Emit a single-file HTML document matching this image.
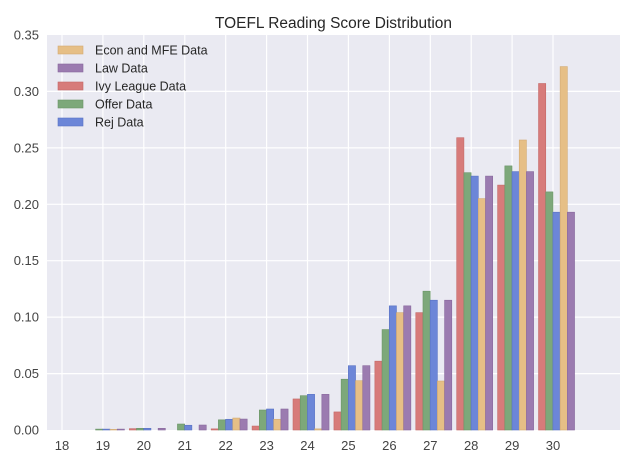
<!DOCTYPE html>
<html><head><meta charset="utf-8"><style>
html,body{margin:0;padding:0;background:#fff;}
svg{display:block;font-family:"Liberation Sans",Arial,sans-serif;}
</style></head><body>
<svg width="640" height="465" viewBox="0 0 640 465" xmlns="http://www.w3.org/2000/svg">
<rect x="0" y="0" width="640" height="465" fill="#ffffff"/>
<rect x="47" y="35" width="573" height="395" fill="#eaeaf2"/>
<g stroke="#ffffff" stroke-width="1.2">
<line x1="47" x2="620" y1="373.6" y2="373.6"/>
<line x1="47" x2="620" y1="317.1" y2="317.1"/>
<line x1="47" x2="620" y1="260.7" y2="260.7"/>
<line x1="47" x2="620" y1="204.3" y2="204.3"/>
<line x1="47" x2="620" y1="147.9" y2="147.9"/>
<line x1="47" x2="620" y1="91.4" y2="91.4"/>
<line x1="62" x2="62" y1="35" y2="430"/>
<line x1="102.9" x2="102.9" y1="35" y2="430"/>
<line x1="143.8" x2="143.8" y1="35" y2="430"/>
<line x1="184.8" x2="184.8" y1="35" y2="430"/>
<line x1="225.7" x2="225.7" y1="35" y2="430"/>
<line x1="266.6" x2="266.6" y1="35" y2="430"/>
<line x1="307.5" x2="307.5" y1="35" y2="430"/>
<line x1="348.4" x2="348.4" y1="35" y2="430"/>
<line x1="389.4" x2="389.4" y1="35" y2="430"/>
<line x1="430.3" x2="430.3" y1="35" y2="430"/>
<line x1="471.2" x2="471.2" y1="35" y2="430"/>
<line x1="512.1" x2="512.1" y1="35" y2="430"/>
<line x1="553" x2="553" y1="35" y2="430"/>
</g>
<g transform="translate(0,430) scale(1,-1)" stroke-width="0.6">
<g transform="translate(88.42,0)">
<rect x="7.2" y="0" width="7.2" height="0.9" fill="#7da87a" stroke="#6a9567"/>
<rect x="14.4" y="0" width="7.2" height="0.9" fill="#6c86d8" stroke="#5a73c4"/>
<rect x="21.6" y="0" width="7.2" height="0.6" fill="#e6bf86" stroke="#d3ab72"/>
<rect x="28.8" y="0" width="7.2" height="0.9" fill="#9b7bb0" stroke="#88689d"/>
</g>
<g transform="translate(129.34,0)">
<rect x="0" y="0" width="7.2" height="1.35" fill="#d77b7a" stroke="#c46867"/>
<rect x="7.2" y="0" width="7.2" height="1.7" fill="#7da87a" stroke="#6a9567"/>
<rect x="14.4" y="0" width="7.2" height="1.7" fill="#6c86d8" stroke="#5a73c4"/>
<rect x="28.8" y="0" width="7.2" height="1.7" fill="#9b7bb0" stroke="#88689d"/>
</g>
<g transform="translate(170.26,0)">
<rect x="7.2" y="0" width="7.2" height="5.98" fill="#7da87a" stroke="#6a9567"/>
<rect x="14.4" y="0" width="7.2" height="4.74" fill="#6c86d8" stroke="#5a73c4"/>
<rect x="28.8" y="0" width="7.2" height="4.97" fill="#9b7bb0" stroke="#88689d"/>
</g>
<g transform="translate(211.18,0)">
<rect x="0" y="0" width="7.2" height="1.13" fill="#d77b7a" stroke="#c46867"/>
<rect x="7.2" y="0" width="7.2" height="10.16" fill="#7da87a" stroke="#6a9567"/>
<rect x="14.4" y="0" width="7.2" height="10.72" fill="#6c86d8" stroke="#5a73c4"/>
<rect x="21.6" y="0" width="7.2" height="11.96" fill="#e6bf86" stroke="#d3ab72"/>
<rect x="28.8" y="0" width="7.2" height="10.95" fill="#9b7bb0" stroke="#88689d"/>
</g>
<g transform="translate(252.1,0)">
<rect x="0" y="0" width="7.2" height="3.95" fill="#d77b7a" stroke="#c46867"/>
<rect x="7.2" y="0" width="7.2" height="19.98" fill="#7da87a" stroke="#6a9567"/>
<rect x="14.4" y="0" width="7.2" height="20.99" fill="#6c86d8" stroke="#5a73c4"/>
<rect x="21.6" y="0" width="7.2" height="10.72" fill="#e6bf86" stroke="#d3ab72"/>
<rect x="28.8" y="0" width="7.2" height="20.99" fill="#9b7bb0" stroke="#88689d"/>
</g>
<g transform="translate(293.02,0)">
<rect x="0" y="0" width="7.2" height="31.04" fill="#d77b7a" stroke="#c46867"/>
<rect x="7.2" y="0" width="7.2" height="34.31" fill="#7da87a" stroke="#6a9567"/>
<rect x="14.4" y="0" width="7.2" height="35.66" fill="#6c86d8" stroke="#5a73c4"/>
<rect x="21.6" y="0" width="7.2" height="1.13" fill="#e6bf86" stroke="#d3ab72"/>
<rect x="28.8" y="0" width="7.2" height="35.66" fill="#9b7bb0" stroke="#88689d"/>
</g>
<g transform="translate(333.94,0)">
<rect x="0" y="0" width="7.2" height="18.06" fill="#d77b7a" stroke="#c46867"/>
<rect x="7.2" y="0" width="7.2" height="50.79" fill="#7da87a" stroke="#6a9567"/>
<rect x="14.4" y="0" width="7.2" height="64.33" fill="#6c86d8" stroke="#5a73c4"/>
<rect x="21.6" y="0" width="7.2" height="49.32" fill="#e6bf86" stroke="#d3ab72"/>
<rect x="28.8" y="0" width="7.2" height="64.33" fill="#9b7bb0" stroke="#88689d"/>
</g>
<g transform="translate(374.86,0)">
<rect x="0" y="0" width="7.2" height="68.84" fill="#d77b7a" stroke="#c46867"/>
<rect x="7.2" y="0" width="7.2" height="100.44" fill="#7da87a" stroke="#6a9567"/>
<rect x="14.4" y="0" width="7.2" height="124.14" fill="#6c86d8" stroke="#5a73c4"/>
<rect x="21.6" y="0" width="7.2" height="117.37" fill="#e6bf86" stroke="#d3ab72"/>
<rect x="28.8" y="0" width="7.2" height="124.14" fill="#9b7bb0" stroke="#88689d"/>
</g>
<g transform="translate(415.78,0)">
<rect x="0" y="0" width="7.2" height="117.37" fill="#d77b7a" stroke="#c46867"/>
<rect x="7.2" y="0" width="7.2" height="138.81" fill="#7da87a" stroke="#6a9567"/>
<rect x="14.4" y="0" width="7.2" height="129.79" fill="#6c86d8" stroke="#5a73c4"/>
<rect x="21.6" y="0" width="7.2" height="48.98" fill="#e6bf86" stroke="#d3ab72"/>
<rect x="28.8" y="0" width="7.2" height="129.79" fill="#9b7bb0" stroke="#88689d"/>
</g>
<g transform="translate(456.7,0)">
<rect x="0" y="0" width="7.2" height="292.3" fill="#d77b7a" stroke="#c46867"/>
<rect x="7.2" y="0" width="7.2" height="257.3" fill="#7da87a" stroke="#6a9567"/>
<rect x="14.4" y="0" width="7.2" height="253.9" fill="#6c86d8" stroke="#5a73c4"/>
<rect x="21.6" y="0" width="7.2" height="231.4" fill="#e6bf86" stroke="#d3ab72"/>
<rect x="28.8" y="0" width="7.2" height="253.9" fill="#9b7bb0" stroke="#88689d"/>
</g>
<g transform="translate(497.62,0)">
<rect x="0" y="0" width="7.2" height="244.9" fill="#d77b7a" stroke="#c46867"/>
<rect x="7.2" y="0" width="7.2" height="264.1" fill="#7da87a" stroke="#6a9567"/>
<rect x="14.4" y="0" width="7.2" height="258.4" fill="#6c86d8" stroke="#5a73c4"/>
<rect x="21.6" y="0" width="7.2" height="290.0" fill="#e6bf86" stroke="#d3ab72"/>
<rect x="28.8" y="0" width="7.2" height="258.4" fill="#9b7bb0" stroke="#88689d"/>
</g>
<g transform="translate(538.54,0)">
<rect x="0" y="0" width="7.2" height="346.5" fill="#d77b7a" stroke="#c46867"/>
<rect x="7.2" y="0" width="7.2" height="238.1" fill="#7da87a" stroke="#6a9567"/>
<rect x="14.4" y="0" width="7.2" height="217.8" fill="#6c86d8" stroke="#5a73c4"/>
<rect x="21.6" y="0" width="7.2" height="363.4" fill="#e6bf86" stroke="#d3ab72"/>
<rect x="28.8" y="0" width="7.2" height="217.8" fill="#9b7bb0" stroke="#88689d"/>
</g>
</g>
<text x="333.5" y="28" font-size="15.5" fill="#262626" text-anchor="middle" textLength="237" lengthAdjust="spacingAndGlyphs">TOEFL Reading Score Distribution</text>
<g font-size="13" fill="#444444" text-anchor="end">
<text x="39" y="39.5">0.35</text>
<text x="39" y="96">0.30</text>
<text x="39" y="152.4">0.25</text>
<text x="39" y="208.8">0.20</text>
<text x="39" y="265.2">0.15</text>
<text x="39" y="321.6">0.10</text>
<text x="39" y="378.1">0.05</text>
<text x="39" y="434.5">0.00</text>
</g>
<g font-size="13" fill="#444444" text-anchor="middle">
<text x="62" y="450">18</text>
<text x="102.9" y="450">19</text>
<text x="143.8" y="450">20</text>
<text x="184.8" y="450">21</text>
<text x="225.7" y="450">22</text>
<text x="266.6" y="450">23</text>
<text x="307.5" y="450">24</text>
<text x="348.4" y="450">25</text>
<text x="389.4" y="450">26</text>
<text x="430.3" y="450">27</text>
<text x="471.2" y="450">28</text>
<text x="512.1" y="450">29</text>
<text x="553" y="450">30</text>
</g>
<g stroke-width="0.6">
<rect x="58" y="46" width="25" height="8" fill="#e6bf86" stroke="#d3ab72"/>
<rect x="58" y="64" width="25" height="8" fill="#9b7bb0" stroke="#88689d"/>
<rect x="58" y="82" width="25" height="8" fill="#d77b7a" stroke="#c46867"/>
<rect x="58" y="100" width="25" height="8" fill="#7da87a" stroke="#6a9567"/>
<rect x="58" y="118" width="25" height="8" fill="#6c86d8" stroke="#5a73c4"/>
</g>
<g font-size="12.5" fill="#262626">
<text x="95" y="54.5">Econ and MFE Data</text>
<text x="95" y="72.5">Law Data</text>
<text x="95" y="90.5">Ivy League Data</text>
<text x="95" y="108.5">Offer Data</text>
<text x="95" y="126.5">Rej Data</text>
</g>
</svg>
</body></html>
